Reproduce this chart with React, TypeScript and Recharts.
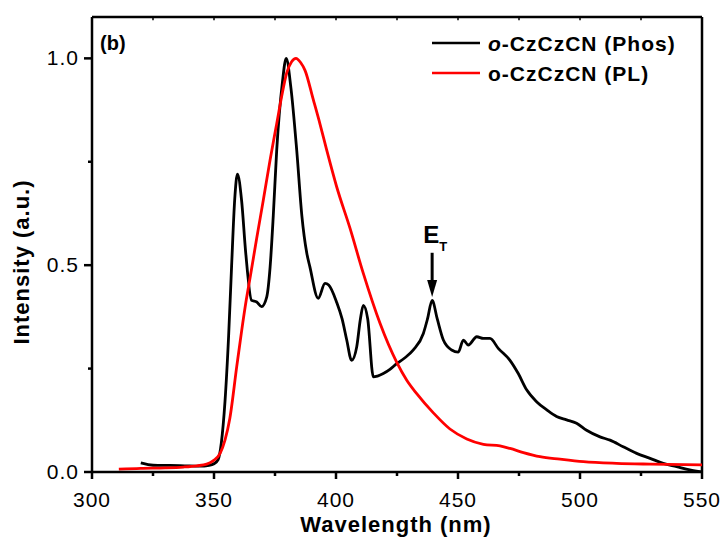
import React from 'react';
import { LineChart, Line, XAxis, YAxis, ReferenceLine, ReferenceDot } from 'recharts';

// phosphorescence spectrum (black)
const phosWavelength = [
  320, 323, 327, 332, 338, 344, 348, 350, 351.7, 353, 354.5, 356, 357.2, 358.5, 359.6,
  361.3, 363, 365.4, 367.5, 369.5, 371.6, 373, 374.3, 375.7, 378, 379.6, 381.5, 383.9,
  386, 388, 389.3, 392.7, 395.5, 397, 400.3, 402.5, 404.4, 406.4, 408.5, 410, 411.2,
  413, 415.3, 417, 419.4, 422.1, 424.9, 428, 431.7, 435.8, 437.5, 439.4, 441.5, 444,
  447.4, 450.1, 452.2, 454.2, 457.7, 460.4, 463.1, 466.5, 471.3, 474.7, 478.2, 482.2,
  486.4, 490.4, 494.5, 498.6, 502.7, 508.2, 512.3, 517.7, 523.2, 528.7, 534.1, 539.6,
  545, 550
];
const phosIntensity = [
  0.022, 0.018, 0.016, 0.016, 0.015, 0.014, 0.016, 0.02, 0.03, 0.07, 0.17, 0.33, 0.496, 0.66, 0.72,
  0.657, 0.53, 0.415, 0.411, 0.4, 0.423, 0.496, 0.62, 0.778, 0.94, 1.0, 0.93, 0.778,
  0.62, 0.53, 0.496, 0.42, 0.456, 0.452, 0.41, 0.37, 0.319, 0.27, 0.303, 0.37, 0.403,
  0.37, 0.23, 0.232, 0.238, 0.248, 0.262, 0.275, 0.295, 0.335, 0.37, 0.415, 0.37, 0.319,
  0.295, 0.29, 0.319, 0.307, 0.327, 0.323, 0.323, 0.299, 0.27, 0.238, 0.198, 0.17,
  0.15, 0.134, 0.126, 0.118, 0.101, 0.085, 0.077, 0.061, 0.045, 0.033, 0.021, 0.013,
  0.005, 0.0
];

// photoluminescence spectrum (red)
const plWavelength = [
  311, 320, 330, 337.5, 343, 347, 349.6, 352.5, 354.5, 356.5, 359.3, 361.3, 363.2, 364.8,
  367.5, 370.2, 373, 375.7, 377.8, 379.8, 381.8, 383.6, 385.5, 387.3, 390.7, 393.5, 396.2,
  400.3, 405.7, 411.2, 418, 424.9, 429, 433, 439.9, 446.7, 453.6, 460.4, 467.2, 471.3,
  476.8, 483.6, 491.8, 501.4, 515, 528.7, 550
];
const plIntensity = [
  0.007, 0.009, 0.01, 0.012, 0.015, 0.019, 0.027, 0.045, 0.077, 0.13, 0.254, 0.34, 0.415, 0.47,
  0.565, 0.657, 0.755, 0.842, 0.91, 0.965, 0.992, 1.0, 0.99, 0.971, 0.9, 0.84, 0.778,
  0.689, 0.59, 0.48, 0.36, 0.265, 0.222, 0.19, 0.143, 0.104, 0.08, 0.067, 0.063, 0.057,
  0.047, 0.037, 0.031, 0.025, 0.021, 0.019, 0.017
];

const xTicks = [300, 325, 350, 375, 400, 425, 450, 475, 500, 525, 550];
const yTicks = [0, 0.25, 0.5, 0.75, 1.0];
const seriesNames = ['-CzCzCN (Phos)', 'o-CzCzCN (PL)'];
const X_MIN = 300;
const X_MAX = 550;
const Y_MAX = 1.1;

const phosData = phosWavelength.map((wl, i) => ({ wl, value: phosIntensity[i] }));
const plData = plWavelength.map((wl, i) => ({ wl, value: plIntensity[i] }));

const FONT = "'Liberation Sans', Arial, sans-serif";

const BottomTick = (props: any) => {
  const { x, y, payload } = props;
  const major = payload.value % 50 === 0;
  return (
    <g>
      <line x1={x} y1={y} x2={x} y2={y + (major ? 7 : 4)} stroke="#000" strokeWidth={2.5} />
      {major && (
        <text x={x} y={y + 35} textAnchor="middle" fontSize={21} letterSpacing={1} fontFamily={FONT} fill="#000">
          {payload.value}
        </text>
      )}
    </g>
  );
};

const LeftTick = (props: any) => {
  const { x, y, payload } = props;
  const major = Math.abs((payload.value * 2) % 1) < 1e-6;
  return (
    <g>
      <line x1={x - (major ? 8 : 4)} y1={y} x2={x} y2={y} stroke="#000" strokeWidth={2.5} />
      {major && (
        <text x={x - 13} y={y + 7} textAnchor="end" fontSize={21} letterSpacing={1} fontFamily={FONT} fill="#000">
          {payload.value.toFixed(1)}
        </text>
      )}
    </g>
  );
};

const ArrowHead = (props: any) => {
  const { cx, cy } = props;
  return <polygon points={`${cx - 5},${cy - 17} ${cx + 5},${cy - 17} ${cx},${cy}`} fill="#000" />;
};

const EtLabel = (props: any) => {
  const { cx, cy } = props;
  return (
    <text x={cx - 9} y={cy} fontSize={24} fontWeight="bold" fontFamily={FONT} fill="#000">
      E
      <tspan fontSize={13} dy={8}>T</tspan>
    </text>
  );
};

export default function App() {
  return (
    <div style={{ position: 'absolute', left: 0, top: 0, width: 725, height: 541, background: '#fff' }}>
      <LineChart width={725} height={541} margin={{ top: 17, right: 23, bottom: 0, left: 32 }}>
        <XAxis
          dataKey="wl"
          type="number"
          domain={[X_MIN, X_MAX]}
          ticks={xTicks}
          allowDataOverflow
          height={69}
          stroke="#000"
          strokeWidth={2.5}
          tickSize={0}
          tickMargin={0}
          tickLine={false}
          tick={<BottomTick />}
        />
        <YAxis
          type="number"
          domain={[0, Y_MAX]}
          ticks={yTicks}
          allowDataOverflow
          width={60}
          stroke="#000"
          strokeWidth={2.5}
          tickSize={0}
          tickMargin={0}
          tickLine={false}
          tick={<LeftTick />}
        />
        {/* top and right frame */}
        <ReferenceLine y={Y_MAX} stroke="#000" strokeWidth={2.5} />
        <ReferenceLine x={X_MAX} stroke="#000" strokeWidth={2.5} />
        {xTicks.map((t) => (
          <ReferenceLine
            key={t}
            segment={[{ x: t, y: Y_MAX }, { x: t, y: Y_MAX - 0.008 }]}
            stroke="#000"
            strokeWidth={1.5}
          />
        ))}
        <Line
          data={phosData}
          dataKey="value"
          type="monotone"
          stroke="#000"
          strokeWidth={2.8}
          dot={false}
          isAnimationActive={false}
        />
        <Line
          data={plData}
          dataKey="value"
          type="monotone"
          stroke="#ff0000"
          strokeWidth={2.8}
          dot={false}
          isAnimationActive={false}
        />
        <ReferenceLine
          segment={[{ x: 439.4, y: 0.53 }, { x: 439.4, y: 0.46 }]}
          stroke="#000"
          strokeWidth={3}
        />
        <ReferenceDot x={439.4} y={0.423} r={1} shape={<ArrowHead />} />
        <ReferenceDot x={439.4} y={0.553} r={1} shape={<EtLabel />} />
      </LineChart>
      <svg
        width={725}
        height={541}
        style={{ position: 'absolute', left: 0, top: 0, pointerEvents: 'none' }}
        fontFamily={FONT}
      >
        <text x={100} y={50} fontSize={20} fontWeight="bold">(b)</text>
        <line x1={432} y1={43} x2={480} y2={43} stroke="#000" strokeWidth={2.5} />
        <text x={488} y={51} fontSize={21} fontWeight="bold" letterSpacing={1}>
          <tspan fontStyle="italic">o</tspan>
          {seriesNames[0]}
        </text>
        <line x1={432} y1={73} x2={480} y2={73} stroke="#ff0000" strokeWidth={2.5} />
        <text x={488} y={81} fontSize={21} fontWeight="bold" letterSpacing={1}>
          {seriesNames[1]}
        </text>
        <text x={396} y={532} fontSize={22} fontWeight="bold" letterSpacing={1} textAnchor="middle">
          Wavelength (nm)
        </text>
        <text
          x={0}
          y={0}
          fontSize={22}
          fontWeight="bold"
          letterSpacing={1}
          textAnchor="middle"
          transform="translate(29, 262) rotate(-90)"
        >
          Intensity (a.u.)
        </text>
      </svg>
    </div>
  );
}
